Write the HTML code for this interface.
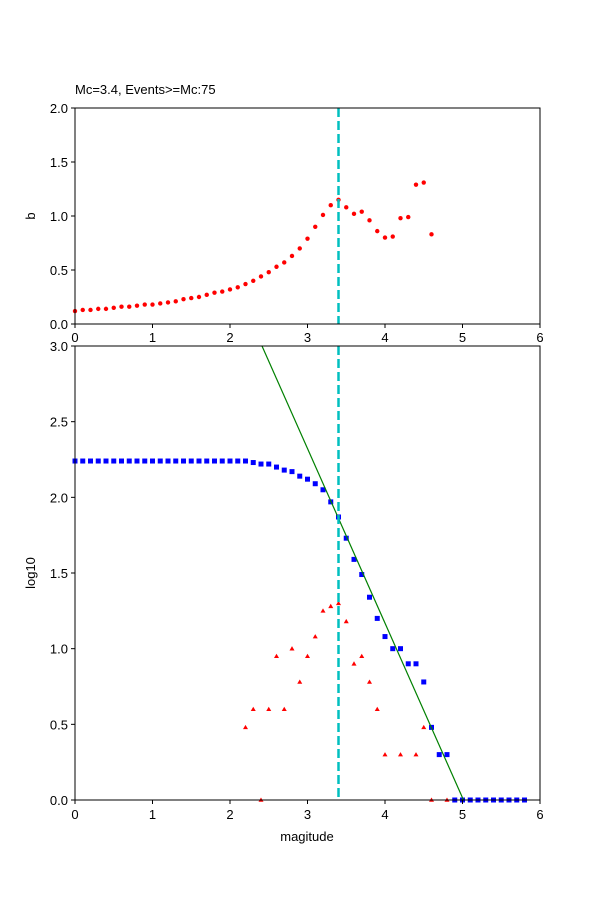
<!DOCTYPE html>
<html><head><meta charset="utf-8"><style>body{margin:0;background:#fff}svg{display:block}text{font-family:"Liberation Sans","DejaVu Sans",sans-serif;font-size:13px;fill:#000}</style></head>
<body>
<svg id="s" width="600" height="900" xmlns="http://www.w3.org/2000/svg">
<rect width="600" height="900" fill="#fff"/>
<g id="g"></g>
<text x="75" y="94">Mc=3.4, Events&gt;=Mc:75</text>
<text x="307" y="841" text-anchor="middle">magitude</text>
<text transform="translate(35,216) rotate(-90)" text-anchor="middle">b</text>
<text transform="translate(35,573) rotate(-90)" text-anchor="middle">log10</text>
</svg>
<script>
const g=document.getElementById('g');let h='';
const X=m=>75+m*77.5, Yt=v=>324-v*108, Yb=v=>800-v*151.33;
const b=[.12,.13,.13,.14,.14,.15,.16,.16,.17,.18,.18,.19,.20,.21,.23,.24,.25,.27,.29,.30,.32,.34,.37,.40,.44,.48,.53,.57,.63,.70,.79,.90,1.01,1.10,1.15,1.08,1.02,1.04,.96,.86,.80,.81,.98,.99,1.29,1.31,.83];
b.forEach((v,i)=>h+=`<circle cx="${X(i/10)}" cy="${Yt(v)}" r="2.2" fill="red"/>`);
const bl={};for(let i=0;i<=22;i++)bl[i]=2.24;
Object.assign(bl,{23:2.23,24:2.22,25:2.22,26:2.20,27:2.18,28:2.17,29:2.14,30:2.12,31:2.09,32:2.05,33:1.97,34:1.87,35:1.73,36:1.59,37:1.49,38:1.34,39:1.20,40:1.08,41:1.00,42:1.00,43:.90,44:.90,45:.78,46:.48,47:.30,48:.30});
for(let i=49;i<=58;i++)bl[i]=0;
for(const k in bl)h+=`<rect x="${X(k/10)-2.5}" y="${Yb(bl[k])-2.5}" width="5" height="5" fill="blue"/>`;
const tr={22:.48,23:.60,24:0,25:.60,26:.95,27:.60,28:1.00,29:.78,30:.95,31:1.08,32:1.25,33:1.28,34:1.30,35:1.18,36:.90,37:.95,38:.78,39:.60,40:.30,42:.30,44:.30,45:.48,46:0,48:0};
for(const k in tr){const x=X(k/10),y=Yb(tr[k]);h+=`<polygon points="${x},${y-2.5} ${x-2.5},${y+1.8} ${x+2.5},${y+1.8}" fill="red"/>`;}
h+=`<line x1="262" y1="346" x2="463.5" y2="800" stroke="green" stroke-width="1.2"/>`;
h+=`<line x1="338.5" y1="108" x2="338.5" y2="324" stroke="#00bfbf" stroke-width="2.5" stroke-dasharray="9,4"/>`;
h+=`<line x1="338.5" y1="346" x2="338.5" y2="800" stroke="#00bfbf" stroke-width="2.5" stroke-dasharray="9,4"/>`;
h+=`<rect x="75" y="108" width="465" height="216" fill="none" stroke="#000"/>`;
h+=`<rect x="75" y="346" width="465" height="454" fill="none" stroke="#000"/>`;
for(let m=0;m<=6;m++){const x=X(m);
 h+=`<line x1="${x}" y1="324" x2="${x}" y2="328" stroke="#000"/><text x="${x}" y="342" text-anchor="middle">${m}</text>`;
 h+=`<line x1="${x}" y1="800" x2="${x}" y2="804" stroke="#000"/><text x="${x}" y="819" text-anchor="middle">${m}</text>`;}
for(let v=0;v<=2;v+=.5){const y=Yt(v);h+=`<line x1="71" y1="${y}" x2="75" y2="${y}" stroke="#000"/><text x="68" y="${y+5}" text-anchor="end">${v.toFixed(1)}</text>`;}
for(let v=0;v<=3;v+=.5){const y=Yb(v);h+=`<line x1="71" y1="${y}" x2="75" y2="${y}" stroke="#000"/><text x="68" y="${y+5}" text-anchor="end">${v.toFixed(1)}</text>`;}
g.innerHTML=h;
</script>
</body></html>
